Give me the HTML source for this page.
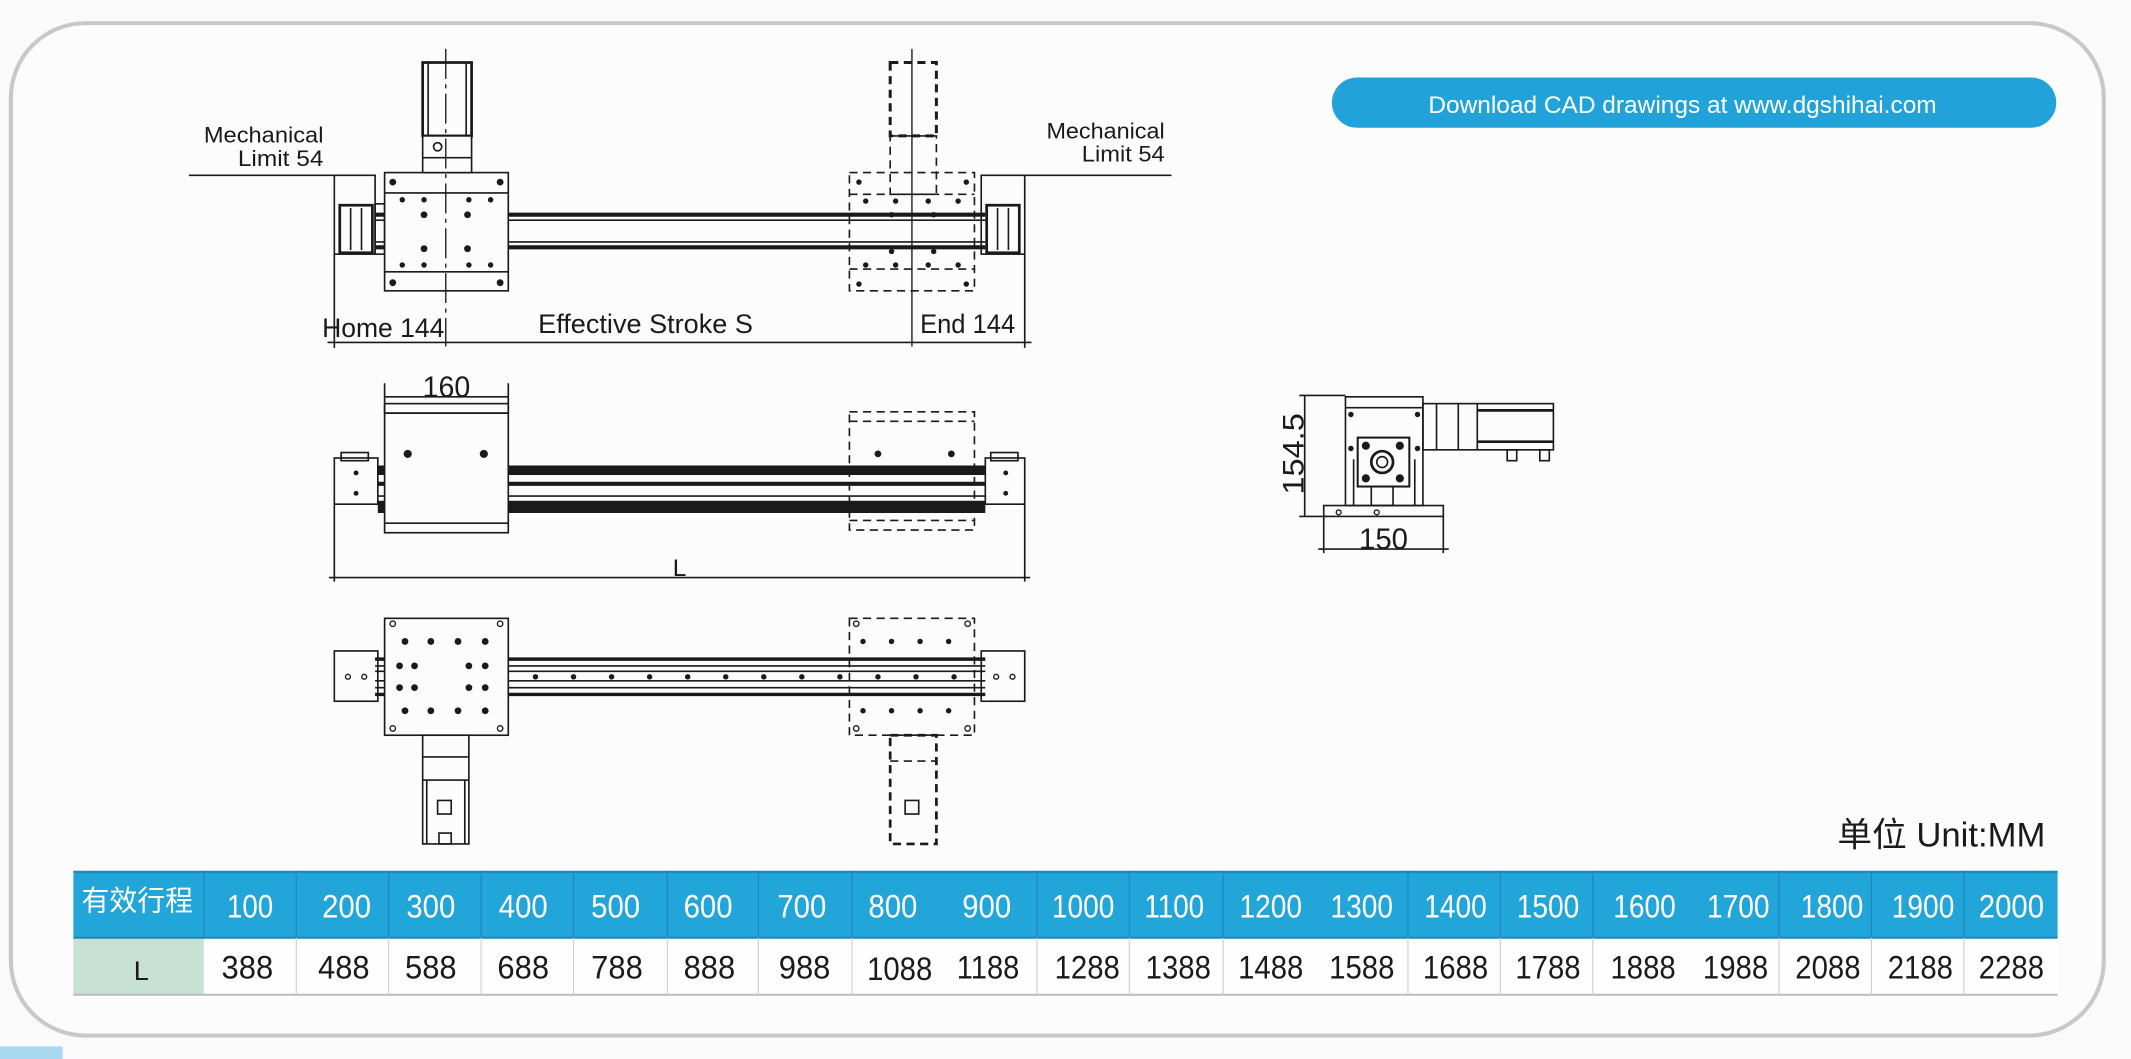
<!DOCTYPE html>
<html><head><meta charset="utf-8"><style>
html,body{margin:0;padding:0;background:#fafafa;}
svg{display:block;}
text{font-family:"Liberation Sans Narrow","Liberation Sans","Noto Sans CJK SC",sans-serif;}
</style></head><body>
<svg width="2131" height="1059" viewBox="0 0 1568 779.25" preserveAspectRatio="none" xmlns="http://www.w3.org/2000/svg">
<rect x="0" y="0" width="1568" height="779.25" fill="#fafafa"/>
<rect x="8" y="17" width="1540" height="745" rx="55" fill="#fcfcfc" stroke="#c8c8c8" stroke-width="3"/>
<rect x="0" y="770" width="46" height="10" fill="#a9d8f2"/>
<rect x="980" y="57" width="533" height="37" rx="18.5" fill="#21a3da"/>
<text x="1238" y="83" fill="#fff" font-size="18" text-anchor="middle" font-family="Liberation Sans">Download CAD drawings at www.dgshihai.com</text>

<g stroke="#1a1a1a" fill="none" stroke-width="1.2">
<line x1="139" y1="129" x2="246" y2="129"/>
<line x1="754" y1="129" x2="862" y2="129"/>
<rect x="246" y="129" width="30" height="58"/>
<rect x="250" y="151" width="24" height="35" stroke-width="2"/>
<line x1="258" y1="153" x2="258" y2="184"/><line x1="266" y1="153" x2="266" y2="184"/>
<rect x="276" y="150" width="7" height="37"/>
<rect x="722" y="129" width="32" height="58"/>
<rect x="726" y="151" width="24" height="35" stroke-width="2"/>
<line x1="734" y1="153" x2="734" y2="184"/><line x1="742" y1="153" x2="742" y2="184"/>
<line x1="276" y1="158" x2="725" y2="158" stroke-width="3"/>
<line x1="276" y1="162" x2="725" y2="162"/>
<line x1="276" y1="178" x2="725" y2="178"/>
<line x1="276" y1="182" x2="725" y2="182" stroke-width="3"/>
<rect x="283" y="127" width="91" height="87" fill="#fcfcfc"/>
<line x1="283" y1="142" x2="374" y2="142"/>
<line x1="283" y1="200" x2="374" y2="200"/>
<rect x="311" y="46" width="36" height="54" fill="#fcfcfc" stroke-width="2"/>
<line x1="315" y1="46" x2="315" y2="100"/><line x1="343" y1="46" x2="343" y2="100"/>
<rect x="311" y="100" width="36" height="27" fill="#fcfcfc"/>
<line x1="311" y1="116" x2="347" y2="116"/>
<circle cx="322" cy="108" r="3"/>
<line x1="328" y1="36" x2="328" y2="255" stroke-dasharray="22,4,3,4" stroke-width="1"/>
<g stroke-dasharray="6,4">
<rect x="625" y="127" width="92" height="87"/>
<line x1="625" y1="143" x2="717" y2="143"/>
<line x1="625" y1="198" x2="717" y2="198"/>
<rect x="655" y="46" width="34" height="54" stroke-width="2.2"/>
<rect x="655" y="100" width="34" height="43"/>
</g>
<line x1="671" y1="36" x2="671" y2="255" stroke-width="1"/>
<line x1="246" y1="187" x2="246" y2="256"/>
<line x1="754" y1="187" x2="754" y2="256"/>
<line x1="241" y1="252" x2="759" y2="252"/>

<line x1="283" y1="282" x2="283" y2="304"/><line x1="374" y1="282" x2="374" y2="304"/>
<line x1="283" y1="292" x2="374" y2="292"/>
<rect x="246" y="337" width="32" height="34"/>
<rect x="251" y="333" width="20" height="6"/>
<rect x="725" y="337" width="29" height="34"/>
<rect x="729" y="333" width="20" height="6"/>
<line x1="278" y1="346" x2="725" y2="346" stroke-width="7"/>
<line x1="278" y1="356" x2="725" y2="356" stroke-width="3"/>
<line x1="278" y1="365" x2="725" y2="365"/>
<line x1="278" y1="373" x2="725" y2="373" stroke-width="9"/>
<rect x="283" y="304" width="91" height="88" fill="#fcfcfc"/>
<rect x="283" y="297" width="91" height="7"/>
<line x1="283" y1="385" x2="374" y2="385"/>
<g stroke-dasharray="6,4">
<rect x="625" y="303" width="92" height="87"/>
<line x1="625" y1="310" x2="717" y2="310"/>
<line x1="625" y1="383" x2="717" y2="383"/>
</g>
<line x1="246" y1="371" x2="246" y2="428"/><line x1="754" y1="371" x2="754" y2="428"/>
<line x1="242" y1="425" x2="758" y2="425"/>

<rect x="246" y="479" width="32" height="37"/>
<rect x="722" y="479" width="32" height="37"/>
<line x1="276" y1="485" x2="725" y2="485" stroke-width="2.5"/>
<line x1="276" y1="490" x2="725" y2="490"/>
<line x1="276" y1="494" x2="725" y2="494"/>
<line x1="276" y1="501" x2="725" y2="501"/>
<line x1="276" y1="506" x2="725" y2="506"/>
<line x1="276" y1="511" x2="725" y2="511" stroke-width="2.5"/>
<rect x="283" y="455" width="91" height="86" fill="#fcfcfc"/>
<rect x="311" y="541" width="34" height="80" fill="#fcfcfc"/>
<line x1="311" y1="557" x2="345" y2="557"/>
<line x1="314" y1="574" x2="314" y2="621"/><line x1="342" y1="574" x2="342" y2="621"/>
<line x1="311" y1="574" x2="345" y2="574"/>
<rect x="322" y="589" width="10" height="10"/>
<rect x="323" y="613" width="9" height="8"/>
<g stroke-dasharray="6,4">
<rect x="625" y="455" width="92" height="86"/>
<rect x="655" y="541" width="34" height="80" stroke-width="2"/>
<line x1="655" y1="560" x2="689" y2="560"/>
</g>
<rect x="666" y="589" width="10" height="10"/>

<line x1="960" y1="291" x2="960" y2="380"/>
<line x1="956" y1="291" x2="990" y2="291"/>
<line x1="956" y1="380" x2="976" y2="380"/>
<rect x="990" y="292" width="57" height="80"/>
<line x1="990" y1="300" x2="1047" y2="300"/>
<line x1="996" y1="338" x2="996" y2="372"/><line x1="1041" y1="338" x2="1041" y2="372"/>
<rect x="1047" y="297" width="96" height="34"/>
<line x1="1057" y1="297" x2="1057" y2="331"/><line x1="1073" y1="297" x2="1073" y2="331"/>
<line x1="1087" y1="297" x2="1087" y2="331"/>
<line x1="1087" y1="302" x2="1143" y2="302" stroke-width="2"/>
<line x1="1087" y1="325" x2="1143" y2="325" stroke-width="2"/>
<rect x="1109" y="331" width="7" height="8"/><rect x="1133" y="331" width="7" height="8"/>
<rect x="999" y="322" width="38" height="36" fill="#fcfcfc" stroke-width="1.5"/>
<circle cx="1017" cy="340" r="8" stroke-width="2"/><circle cx="1017" cy="340" r="4"/>
<rect x="1009" y="358" width="16" height="14"/>
<rect x="974" y="372" width="88" height="8"/>
<line x1="974" y1="380" x2="974" y2="407"/><line x1="1062" y1="380" x2="1062" y2="407"/>
<line x1="970" y1="404" x2="1066" y2="404"/>
</g>

<g fill="#1a1a1a">
<circle cx="289" cy="134" r="2.5"/><circle cx="368" cy="134" r="2.5"/>
<circle cx="296" cy="147" r="2"/><circle cx="312" cy="147" r="2"/><circle cx="345" cy="147" r="2"/><circle cx="361" cy="147" r="2"/>
<circle cx="312" cy="158" r="2.5"/><circle cx="344" cy="158" r="2.5"/>
<circle cx="312" cy="183" r="2.5"/><circle cx="344" cy="183" r="2.5"/>
<circle cx="296" cy="195" r="2"/><circle cx="312" cy="195" r="2"/><circle cx="345" cy="195" r="2"/><circle cx="361" cy="195" r="2"/>
<circle cx="289" cy="208" r="2.5"/><circle cx="368" cy="208" r="2.5"/>
<circle cx="632" cy="134" r="2"/><circle cx="711" cy="134" r="2"/>
<circle cx="637" cy="148" r="2"/><circle cx="659" cy="148" r="2"/><circle cx="683" cy="148" r="2"/><circle cx="705" cy="148" r="2"/>
<circle cx="656" cy="158" r="2"/><circle cx="687" cy="158" r="2"/><circle cx="656" cy="185" r="2"/><circle cx="687" cy="185" r="2"/>
<circle cx="637" cy="195" r="2"/><circle cx="659" cy="195" r="2"/><circle cx="683" cy="195" r="2"/><circle cx="705" cy="195" r="2"/>
<circle cx="632" cy="209" r="2"/><circle cx="711" cy="209" r="2"/>
<circle cx="300" cy="334" r="3"/><circle cx="356" cy="334" r="3"/>
<circle cx="646" cy="334" r="2.5"/><circle cx="700" cy="334" r="2.5"/>
<circle cx="262" cy="348" r="1.8"/><circle cx="262" cy="363" r="1.8"/><circle cx="740" cy="348" r="1.8"/><circle cx="740" cy="363" r="1.8"/>
<circle cx="298" cy="472" r="2.5"/><circle cx="317" cy="472" r="2.5"/><circle cx="337" cy="472" r="2.5"/><circle cx="357" cy="472" r="2.5"/>
<circle cx="294" cy="490" r="2.5"/><circle cx="305" cy="490" r="2.5"/><circle cx="345" cy="490" r="2.5"/><circle cx="357" cy="490" r="2.5"/>
<circle cx="294" cy="506" r="2.5"/><circle cx="305" cy="506" r="2.5"/><circle cx="345" cy="506" r="2.5"/><circle cx="357" cy="506" r="2.5"/>
<circle cx="298" cy="523" r="2.5"/><circle cx="317" cy="523" r="2.5"/><circle cx="337" cy="523" r="2.5"/><circle cx="357" cy="523" r="2.5"/>
<circle cx="394" cy="498" r="2"/><circle cx="422" cy="498" r="2"/><circle cx="450" cy="498" r="2"/><circle cx="478" cy="498" r="2"/><circle cx="506" cy="498" r="2"/><circle cx="534" cy="498" r="2"/><circle cx="562" cy="498" r="2"/><circle cx="590" cy="498" r="2"/><circle cx="618" cy="498" r="2"/><circle cx="646" cy="498" r="2"/><circle cx="674" cy="498" r="2"/><circle cx="702" cy="498" r="2"/>
<circle cx="635" cy="472" r="2"/><circle cx="656" cy="472" r="2"/><circle cx="677" cy="472" r="2"/><circle cx="698" cy="472" r="2"/>
<circle cx="635" cy="523" r="2"/><circle cx="656" cy="523" r="2"/><circle cx="677" cy="523" r="2"/><circle cx="698" cy="523" r="2"/>
<circle cx="994" cy="305" r="2"/><circle cx="1043" cy="305" r="2"/><circle cx="994" cy="330" r="2"/><circle cx="1043" cy="330" r="2"/>
<circle cx="1005" cy="328" r="3"/><circle cx="1030" cy="328" r="3"/><circle cx="1005" cy="352" r="3"/><circle cx="1030" cy="352" r="3"/>
</g>
<g fill="none" stroke="#1a1a1a" stroke-width="1">
<circle cx="289" cy="459" r="2"/><circle cx="368" cy="459" r="2"/><circle cx="289" cy="536" r="2"/><circle cx="368" cy="536" r="2"/>
<circle cx="630" cy="459" r="2"/><circle cx="712" cy="459" r="2"/><circle cx="630" cy="536" r="2"/><circle cx="712" cy="536" r="2"/>
<circle cx="256" cy="498" r="1.8"/><circle cx="268" cy="498" r="1.8"/><circle cx="733" cy="498" r="1.8"/><circle cx="745" cy="498" r="1.8"/>
<circle cx="985" cy="377" r="1.8"/><circle cx="1013" cy="377" r="1.8"/>
</g>

<g fill="#1a1a1a">
<text x="150" y="105" font-size="16" textLength="88" lengthAdjust="spacingAndGlyphs">Mechanical</text>
<text x="175" y="122" font-size="16" textLength="63" lengthAdjust="spacingAndGlyphs">Limit 54</text>
<text x="770" y="102" font-size="16" textLength="87" lengthAdjust="spacingAndGlyphs">Mechanical</text>
<text x="796" y="119" font-size="16" textLength="61" lengthAdjust="spacingAndGlyphs">Limit 54</text>
<text x="237" y="248" font-size="20" textLength="90" lengthAdjust="spacingAndGlyphs">Home 144</text>
<text x="396" y="245" font-size="20" textLength="158" lengthAdjust="spacingAndGlyphs">Effective Stroke S</text>
<text x="677" y="245" font-size="20" textLength="70" lengthAdjust="spacingAndGlyphs">End 144</text>
<text x="311" y="292" font-size="22" textLength="35" lengthAdjust="spacingAndGlyphs">160</text>
<text x="500" y="424" font-size="18" text-anchor="middle">L</text>
<text x="1000" y="404" font-size="22" textLength="36" lengthAdjust="spacingAndGlyphs">150</text>
<text transform="translate(959,364) rotate(-90)" font-size="22" textLength="60" lengthAdjust="spacingAndGlyphs">154.5</text>
<text x="1352" y="623" font-size="25" textLength="153" lengthAdjust="spacingAndGlyphs">单位 Unit:MM</text>
</g>

<rect x="54" y="641" width="1460" height="49" fill="#22a5d9"/>
<rect x="54" y="690" width="96" height="42" fill="#c7e1d5"/>
<rect x="150" y="690" width="1364" height="42" fill="#fefefe"/>
<line x1="54" y1="641.5" x2="1514" y2="641.5" stroke="#1a88b8" stroke-width="1.5"/>
<line x1="54" y1="690" x2="1514" y2="690" stroke="#1a88b8" stroke-width="1.5"/>
<line x1="54" y1="732" x2="1514" y2="732" stroke="#bbb" stroke-width="1.5"/>
<g stroke="#1a88b8" stroke-width="0.8">
<line x1="150" y1="641" x2="150" y2="690"/><line x1="218" y1="641" x2="218" y2="690"/><line x1="286" y1="641" x2="286" y2="690"/><line x1="354" y1="641" x2="354" y2="690"/><line x1="422" y1="641" x2="422" y2="690"/><line x1="491" y1="641" x2="491" y2="690"/><line x1="558" y1="641" x2="558" y2="690"/><line x1="627" y1="641" x2="627" y2="690"/><line x1="763" y1="641" x2="763" y2="690"/><line x1="831" y1="641" x2="831" y2="690"/><line x1="900" y1="641" x2="900" y2="690"/><line x1="1036" y1="641" x2="1036" y2="690"/><line x1="1104" y1="641" x2="1104" y2="690"/><line x1="1172" y1="641" x2="1172" y2="690"/><line x1="1309" y1="641" x2="1309" y2="690"/><line x1="1377" y1="641" x2="1377" y2="690"/><line x1="1445" y1="641" x2="1445" y2="690"/>
</g>
<g stroke="#ccc" stroke-width="0.8">
<line x1="218" y1="690" x2="218" y2="732"/><line x1="286" y1="690" x2="286" y2="732"/><line x1="354" y1="690" x2="354" y2="732"/><line x1="422" y1="690" x2="422" y2="732"/><line x1="491" y1="690" x2="491" y2="732"/><line x1="558" y1="690" x2="558" y2="732"/><line x1="627" y1="690" x2="627" y2="732"/><line x1="763" y1="690" x2="763" y2="732"/><line x1="831" y1="690" x2="831" y2="732"/><line x1="900" y1="690" x2="900" y2="732"/><line x1="1036" y1="690" x2="1036" y2="732"/><line x1="1104" y1="690" x2="1104" y2="732"/><line x1="1172" y1="690" x2="1172" y2="732"/><line x1="1309" y1="690" x2="1309" y2="732"/><line x1="1377" y1="690" x2="1377" y2="732"/><line x1="1445" y1="690" x2="1445" y2="732"/>
</g>
<g fill="#fff" font-size="24" text-anchor="middle" lengthAdjust="spacingAndGlyphs">
<text x="101" y="670" font-size="21" textLength="82" lengthAdjust="spacingAndGlyphs">有效行程</text>
<text x="184" y="675" textLength="34" lengthAdjust="spacingAndGlyphs">100</text><text x="255" y="675" textLength="36" lengthAdjust="spacingAndGlyphs">200</text><text x="317" y="675" textLength="36" lengthAdjust="spacingAndGlyphs">300</text><text x="385" y="675" textLength="36" lengthAdjust="spacingAndGlyphs">400</text><text x="453" y="675" textLength="36" lengthAdjust="spacingAndGlyphs">500</text><text x="521" y="675" textLength="36" lengthAdjust="spacingAndGlyphs">600</text><text x="590" y="675" textLength="36" lengthAdjust="spacingAndGlyphs">700</text><text x="657" y="675" textLength="36" lengthAdjust="spacingAndGlyphs">800</text><text x="726" y="675" textLength="36" lengthAdjust="spacingAndGlyphs">900</text><text x="797" y="675" textLength="46" lengthAdjust="spacingAndGlyphs">1000</text><text x="864" y="675" textLength="44" lengthAdjust="spacingAndGlyphs">1100</text><text x="935" y="675" textLength="46" lengthAdjust="spacingAndGlyphs">1200</text><text x="1002" y="675" textLength="46" lengthAdjust="spacingAndGlyphs">1300</text><text x="1071" y="675" textLength="46" lengthAdjust="spacingAndGlyphs">1400</text><text x="1139" y="675" textLength="46" lengthAdjust="spacingAndGlyphs">1500</text><text x="1210" y="675" textLength="46" lengthAdjust="spacingAndGlyphs">1600</text><text x="1279" y="675" textLength="46" lengthAdjust="spacingAndGlyphs">1700</text><text x="1348" y="675" textLength="46" lengthAdjust="spacingAndGlyphs">1800</text><text x="1415" y="675" textLength="46" lengthAdjust="spacingAndGlyphs">1900</text><text x="1480" y="675" textLength="48" lengthAdjust="spacingAndGlyphs">2000</text>
</g>
<g fill="#1a1a1a" font-size="24" text-anchor="middle">
<text x="104" y="721" font-size="20">L</text>
<text x="182" y="720" textLength="38" lengthAdjust="spacingAndGlyphs">388</text><text x="253" y="720" textLength="38" lengthAdjust="spacingAndGlyphs">488</text><text x="317" y="720" textLength="38" lengthAdjust="spacingAndGlyphs">588</text><text x="385" y="720" textLength="38" lengthAdjust="spacingAndGlyphs">688</text><text x="454" y="720" textLength="38" lengthAdjust="spacingAndGlyphs">788</text><text x="522" y="720" textLength="38" lengthAdjust="spacingAndGlyphs">888</text><text x="592" y="720" textLength="38" lengthAdjust="spacingAndGlyphs">988</text><text x="662" y="721" textLength="48" lengthAdjust="spacingAndGlyphs">1088</text><text x="727" y="720" textLength="46" lengthAdjust="spacingAndGlyphs">1188</text><text x="800" y="720" textLength="48" lengthAdjust="spacingAndGlyphs">1288</text><text x="867" y="720" textLength="48" lengthAdjust="spacingAndGlyphs">1388</text><text x="935" y="720" textLength="48" lengthAdjust="spacingAndGlyphs">1488</text><text x="1002" y="720" textLength="48" lengthAdjust="spacingAndGlyphs">1588</text><text x="1071" y="720" textLength="48" lengthAdjust="spacingAndGlyphs">1688</text><text x="1139" y="720" textLength="48" lengthAdjust="spacingAndGlyphs">1788</text><text x="1209" y="720" textLength="48" lengthAdjust="spacingAndGlyphs">1888</text><text x="1277" y="720" textLength="48" lengthAdjust="spacingAndGlyphs">1988</text><text x="1345" y="720" textLength="48" lengthAdjust="spacingAndGlyphs">2088</text><text x="1413" y="720" textLength="48" lengthAdjust="spacingAndGlyphs">2188</text><text x="1480" y="720" textLength="48" lengthAdjust="spacingAndGlyphs">2288</text>
</g>
</svg>
</body></html>
